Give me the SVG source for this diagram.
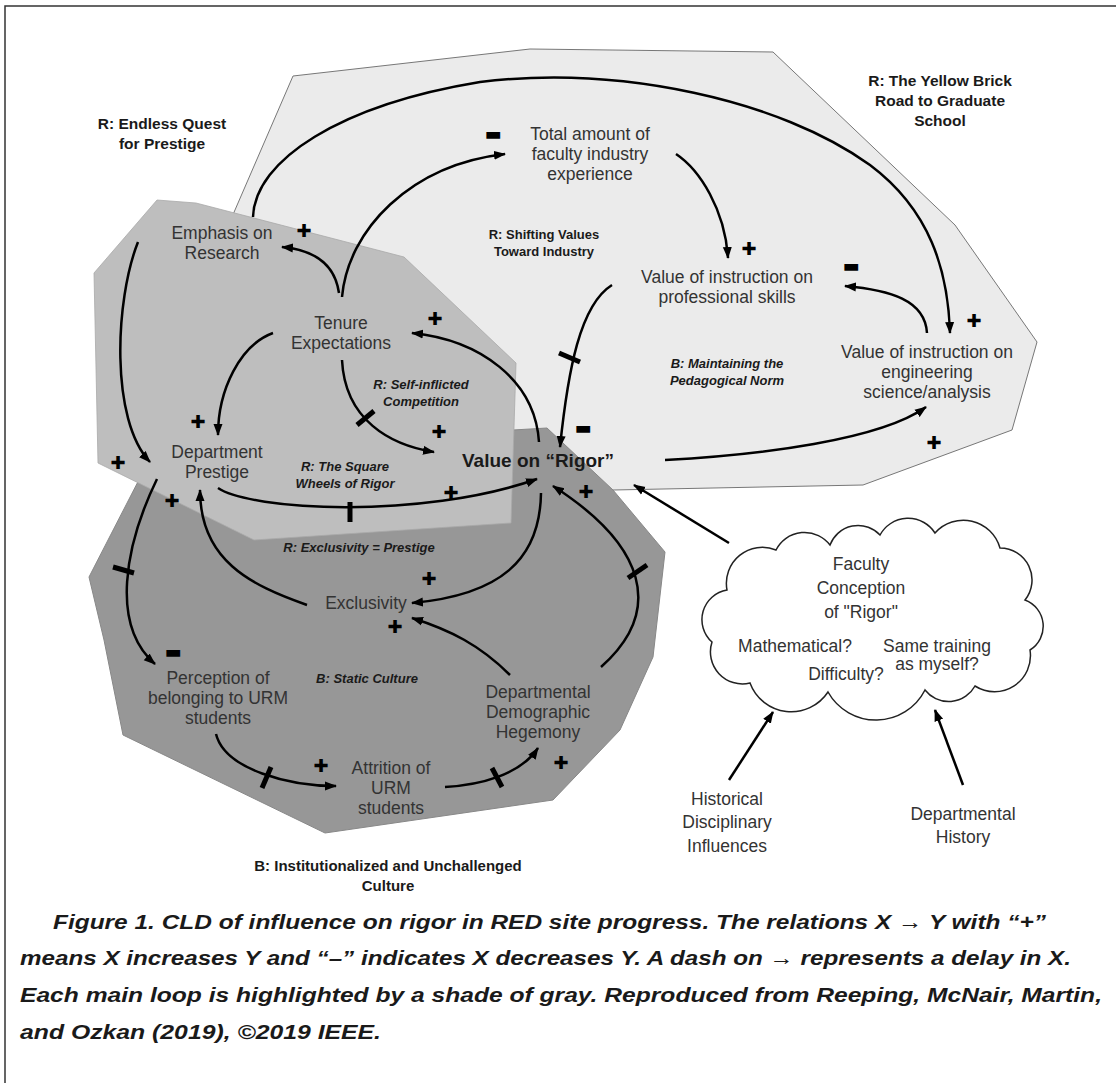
<svg xmlns="http://www.w3.org/2000/svg" width="1116" height="1083" viewBox="0 0 1116 1083">
<style>
.node{font-family:"Liberation Sans",Arial,sans-serif;font-size:17.5px;fill:#333;text-anchor:middle}
.loop{font-family:"Liberation Sans",Arial,sans-serif;font-weight:bold;fill:#1a1a1a;text-anchor:middle}
.it{font-style:italic;font-size:13px}
.up{font-size:15.5px}
.pol{font-family:"DejaVu Sans",sans-serif;font-size:18px;fill:#000;text-anchor:middle}
.cap{font-family:"Liberation Sans",Arial,sans-serif;font-weight:bold;font-style:italic;font-size:21px;fill:#1a1a1a}
.c{fill:none;stroke:#000;stroke-width:2.5}
.a{marker-end:url(#ah)}
.d{stroke:#000;stroke-width:5;fill:none}
</style>
<defs>
<marker id="ah" markerUnits="userSpaceOnUse" viewBox="0 0 12 10" markerWidth="12" markerHeight="10" refX="11" refY="5" orient="auto">
<path d="M0,0.5 L12,5 L0,9.5 Z" fill="#000"/>
</marker>
</defs>
<rect width="1116" height="1083" fill="#fff"/>
<path d="M5,1083 V6 H1116" fill="none" stroke="#333" stroke-width="1.5"/>

<g id="shades">
<polygon id="loop-light" points="293,76 530,49 773,52 955,225 1037,342 1012,430 863,485 613,490 520,492 222,240" fill="#ebebeb" stroke="#777" stroke-width="1"/>
<polygon id="loop-dark" points="144,470 513,430 547,428 613,490 665,552 653,657 620,730 553,800 325,833 123,735 104,640 89,577" fill="#979797" stroke="#888" stroke-width="1"/>
<polygon id="loop-mid" points="157,200 196,203 404,257 516,363 511,523 254,540 98,463 94,273" fill="#bebebe" stroke="#aaa" stroke-width="0.8"/>
</g>

<g id="loop-labels">
<text class="loop up" x="162" y="129">R: Endless Quest</text>
<text class="loop up" x="162" y="149">for Prestige</text>
<text class="loop up" x="940" y="86">R: The Yellow Brick</text>
<text class="loop up" x="940" y="106">Road to Graduate</text>
<text class="loop up" x="940" y="126">School</text>
<text class="loop" font-size="13" x="544" y="239">R: Shifting Values</text>
<text class="loop" font-size="13" x="544" y="256">Toward Industry</text>
<text class="loop it" x="727" y="368">B: Maintaining the</text>
<text class="loop it" x="727" y="385">Pedagogical Norm</text>
<text class="loop it" x="421" y="389">R: Self-inflicted</text>
<text class="loop it" x="421" y="406">Competition</text>
<text class="loop it" x="345" y="471">R: The Square</text>
<text class="loop it" x="345" y="488">Wheels of Rigor</text>
<text class="loop it" x="359" y="552">R: Exclusivity = Prestige</text>
<text class="loop it" x="367" y="683">B: Static Culture</text>
<text class="loop" font-size="15" x="388" y="871">B: Institutionalized and Unchallenged</text>
<text class="loop" font-size="15" x="388" y="891">Culture</text>
</g>

<g id="connectors">
<path class="c a" d="M253,217 C255,160 340,105 480,82 C620,65 780,100 870,165 C930,210 948,270 950,333"/>
<path class="c a" d="M342,297 C348,230 410,165 505,154"/>
<path class="c a" d="M339,293 C335,265 315,250 282,247"/>
<path class="c a" d="M138,242 C115,300 110,420 150,462"/>
<path class="c a" d="M273,333 C240,345 218,390 218,435"/>
<path class="c a" d="M342,360 C345,420 390,445 434,452"/>
<path class="c a" d="M539,442 C535,380 480,340 412,333"/>
<path class="c a" d="M218,488 C250,510 420,520 537,479"/>
<path class="c a" d="M307,605 C250,585 200,560 200,490"/>
<path class="c a" d="M541,493 C540,560 500,595 412,603"/>
<path class="c a" d="M510,675 C480,645 450,630 412,618"/>
<path class="c a" d="M157,479 C125,545 110,625 155,664"/>
<path class="c a" d="M216,734 C225,770 290,786 336,786"/>
<path class="c a" d="M445,787 C480,785 520,775 538,748"/>
<path class="c a" d="M601,667 C665,610 645,545 553,486"/>
<path class="c a" d="M612,285 C580,305 568,370 560,447"/>
<path class="c a" d="M676,154 C700,170 725,210 728,258"/>
<path class="c a" d="M927,333 C925,300 890,290 845,286"/>
<path class="c a" d="M665,460 C760,455 880,440 926,407"/>
<path class="c a" d="M729,543 L634,485"/>
<path class="c a" d="M729,780 L773,712"/>
<path class="c a" d="M963,785 L935,710"/>
<path class="d" d="M357,425 L374,411"/>
<path class="d" d="M350,502 L350,522"/>
<path class="d" d="M113,567 L134,573"/>
<path class="d" d="M262,788 L271,767"/>
<path class="d" d="M492,768 L502,787"/>
<path class="d" d="M628,578 L647,565"/>
<path class="d" d="M559,353 L580,362"/>
</g>

<g id="polarity">
<text class="pol" x="304" y="237">✚</text>
<text class="pol" x="435" y="325">✚</text>
<text class="pol" x="198" y="428">✚</text>
<text class="pol" x="118" y="469">✚</text>
<text class="pol" x="439" y="438">✚</text>
<text class="pol" x="172" y="507">✚</text>
<text class="pol" x="451" y="499">✚</text>
<text class="pol" x="586" y="498">✚</text>
<text class="pol" x="429" y="585">✚</text>
<text class="pol" x="395" y="633">✚</text>
<text class="pol" x="321" y="772">✚</text>
<text class="pol" x="561" y="769">✚</text>
<text class="pol" x="749" y="255">✚</text>
<text class="pol" x="974" y="327">✚</text>
<text class="pol" x="934" y="449">✚</text>
<text class="pol" x="493" y="140">▬</text>
<text class="pol" x="851" y="272">▬</text>
<text class="pol" x="583" y="434">▬</text>
<text class="pol" x="173" y="658">▬</text>
</g>

<g id="n-emphasis"><text class="node" x="222" y="239">Emphasis on</text><text class="node" x="222" y="259">Research</text></g>
<g id="n-tenure"><text class="node" x="341" y="329">Tenure</text><text class="node" x="341" y="349">Expectations</text></g>
<g id="n-total"><text class="node" x="590" y="140">Total amount of</text><text class="node" x="590" y="160">faculty industry</text><text class="node" x="590" y="180">experience</text></g>
<g id="n-professional"><text class="node" x="727" y="283">Value of instruction on</text><text class="node" x="727" y="303">professional skills</text></g>
<g id="n-engineering"><text class="node" x="927" y="358">Value of instruction on</text><text class="node" x="927" y="378">engineering</text><text class="node" x="927" y="398">science/analysis</text></g>
<g id="n-prestige"><text class="node" x="217" y="458">Department</text><text class="node" x="217" y="478">Prestige</text></g>
<g id="n-rigor"><text class="loop" font-size="19" fill="#222" x="538" y="467">Value on “Rigor”</text></g>
<g id="n-exclusivity"><text class="node" x="366" y="609">Exclusivity</text></g>
<g id="n-perception"><text class="node" x="218" y="684">Perception of</text><text class="node" x="218" y="704">belonging to URM</text><text class="node" x="218" y="724">students</text></g>
<g id="n-attrition"><text class="node" x="391" y="774">Attrition of</text><text class="node" x="391" y="794">URM</text><text class="node" x="391" y="814">students</text></g>
<g id="n-hegemony"><text class="node" font-size="18" x="538" y="698">Departmental</text><text class="node" font-size="18" x="538" y="718">Demographic</text><text class="node" font-size="18" x="538" y="738">Hegemony</text></g>

<g id="n-faculty">
<path d="M750,683 A32,32 0 0 1 712,642 A30,30 0 0 1 727,590 A36,36 0 0 1 776,550 A32,32 0 0 1 830,545 A30,30 0 0 1 880,535 A32,32 0 0 1 935,533 A38,38 0 0 1 1000,548 A32,32 0 0 1 1025,600 A28,28 0 0 1 1030,650 A36,36 0 0 1 975,686 A30,30 0 0 1 925,690 A55,55 0 0 1 828,692 A44,44 0 0 1 750,683 Z" fill="#fff" stroke="#222" stroke-width="1.5"/>
<text class="node" font-size="21" x="861" y="570">Faculty</text>
<text class="node" font-size="21" x="861" y="594">Conception</text>
<text class="node" font-size="21" x="861" y="618">of "Rigor"</text>
<text class="node" font-size="15.5" x="795" y="652">Mathematical?</text>
<text class="node" font-size="15.5" x="937" y="652">Same training</text>
<text class="node" font-size="15.5" x="937" y="670">as myself?</text>
<text class="node" font-size="15.5" x="846" y="680">Difficulty?</text>
</g>
<g id="n-historical"><text class="node" font-size="19.5" x="727" y="805">Historical</text><text class="node" font-size="19.5" x="727" y="828">Disciplinary</text><text class="node" font-size="19.5" x="727" y="852">Influences</text></g>
<g id="n-depthistory"><text class="node" font-size="20" x="963" y="820">Departmental</text><text class="node" font-size="20" x="963" y="843">History</text></g>

<g id="caption">
<text class="cap" x="53" y="929" textLength="993" lengthAdjust="spacingAndGlyphs">Figure 1. CLD of influence on rigor in RED site progress. The relations X → Y with “+”</text>
<text class="cap" x="20" y="965" textLength="1051" lengthAdjust="spacingAndGlyphs">means X increases Y and “–” indicates X decreases Y. A dash on → represents a delay in X.</text>
<text class="cap" x="20" y="1002" textLength="1082" lengthAdjust="spacingAndGlyphs">Each main loop is highlighted by a shade of gray. Reproduced from Reeping, McNair, Martin,</text>
<text class="cap" x="20" y="1039" textLength="361" lengthAdjust="spacingAndGlyphs">and Ozkan (2019), ©2019 IEEE.</text>
</g>
</svg>
